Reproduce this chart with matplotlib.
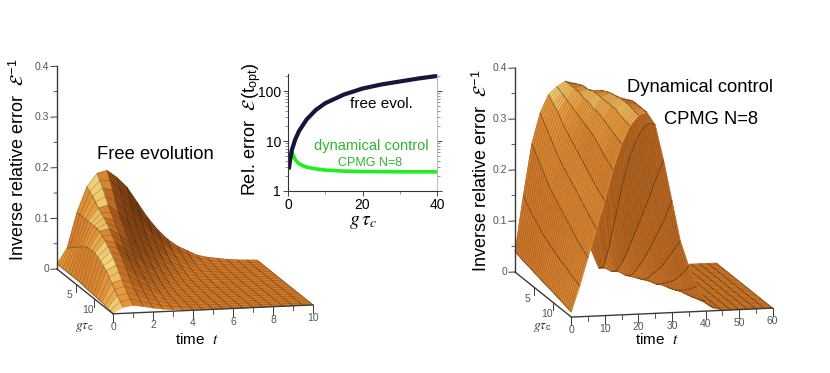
import numpy as np
import matplotlib
matplotlib.use('Agg')
import matplotlib.pyplot as plt
from matplotlib.colors import LinearSegmentedColormap
from mpl_toolkits.mplot3d import proj3d
from mpl_toolkits.mplot3d.art3d import Poly3DCollection

plt.rcParams['font.family'] = 'Liberation Sans'
plt.rcParams['mathtext.fontset'] = 'stix'

# ---- Free evolution surface: one list per g row, one value per t column
free_t = [0, .5, 1, 1.5, 2, 2.5, 3, 3.5, 4, 4.5, 5, 5.5, 6, 6.5, 7, 7.5, 8, 8.5, 9, 9.5, 10]
free_g = [0, 1.5, 3, 4.5, 6, 7.5, 9, 10.5, 12, 13.5, 15]
free_z = [
    [.010, .040, .110, .160, .185, .190, .175, .155, .125, .095, .070, .050, .035, .025, .015, .010, .007, .004, .002, .001, 0],
    [.010, .050, .110, .150, .165, .160, .140, .115, .090, .070, .050, .035, .025, .015, .010, .006, .004, .002, .001, 0, 0],
    [.010, .060, .110, .135, .140, .125, .105, .085, .065, .048, .033, .023, .015, .009, .006, .003, .002, .001, 0, 0, 0],
    [.010, .070, .110, .125, .120, .105, .085, .065, .048, .033, .022, .014, .009, .005, .003, .002, .001, 0, 0, 0, 0],
    [.010, .075, .108, .112, .100, .085, .065, .048, .033, .022, .014, .008, .005, .003, .002, .001, 0, 0, 0, 0, 0],
    [.008, .075, .098, .095, .080, .063, .047, .033, .022, .014, .008, .005, .003, .001, .001, 0, 0, 0, 0, 0, 0],
    [.007, .068, .085, .078, .062, .046, .033, .022, .014, .008, .005, .003, .001, .001, 0, 0, 0, 0, 0, 0, 0],
    [.006, .058, .068, .060, .046, .033, .022, .014, .008, .005, .003, .001, .001, 0, 0, 0, 0, 0, 0, 0, 0],
    [.005, .042, .048, .040, .030, .021, .014, .008, .005, .003, .001, .001, 0, 0, 0, 0, 0, 0, 0, 0, 0],
    [.003, .026, .030, .025, .018, .012, .008, .005, .003, .001, .001, 0, 0, 0, 0, 0, 0, 0, 0, 0, 0],
    [.001, .012, .015, .012, .008, .005, .003, .002, .001, 0, 0, 0, 0, 0, 0, 0, 0, 0, 0, 0, 0],
]

# ---- Dynamical control surface: one list per t column, one value per g row
dyn_g = [0, 1.25, 2.5, 3.75, 5, 6.25, 7.5, 8.75, 10, 11.25, 12.5, 13.75, 15]
dyn_t = [0, 2.5, 5, 7.5, 10, 12.5, 15, 17.5, 20, 22.5, 25, 27.5, 30, 32.5, 35, 37.5, 40, 42.5,
         45, 47.5, 50, 52.5, 55, 57.5, 60]
dyn_z_by_t = [
    [.040, .037, .034, .032, .029, .027, .024, .022, .020, .017, .015, .012, .010],
    [.150, .135, .125, .115, .105, .098, .092, .085, .080, .075, .070, .065, .060],
    [.250, .235, .220, .205, .190, .180, .170, .160, .150, .140, .130, .122, .115],
    [.310, .295, .280, .265, .250, .240, .230, .220, .210, .200, .190, .180, .170],
    [.345, .335, .325, .310, .300, .290, .280, .270, .260, .250, .240, .232, .225],
    [.360, .355, .350, .345, .340, .335, .330, .325, .320, .310, .300, .292, .285],
    [.370, .370, .370, .370, .365, .365, .360, .360, .355, .350, .345, .340, .335],
    [.365, .370, .375, .375, .380, .380, .380, .380, .380, .380, .375, .372, .370],
    [.260, .320, .350, .370, .380, .385, .390, .392, .395, .395, .395, .392, .390],
    [.040, .120, .200, .260, .310, .345, .365, .380, .390, .395, .395, .395, .395],
    [0, .010, .050, .100, .150, .200, .245, .280, .310, .335, .355, .365, .370],
    [0, 0, .010, .030, .055, .085, .115, .145, .175, .205, .240, .270, .300],
    [0, 0, 0, .005, .020, .040, .060, .085, .110, .135, .160, .190, .220],
    [0, 0, 0, 0, .005, .015, .030, .045, .060, .080, .100, .120, .140],
    [0, 0, 0, 0, 0, .003, .010, .020, .030, .040, .055, .070, .090],
    [0, 0, 0, 0, 0, 0, .002, .006, .012, .020, .028, .038, .050],
    [0, 0, 0, 0, 0, 0, 0, .001, .003, .006, .010, .015, .020],
    [0, 0, 0, 0, 0, 0, 0, 0, 0, .001, .002, .003, .005],
    [0] * 13, [0] * 13, [0] * 13, [0] * 13, [0] * 13, [0] * 13, [0] * 13,
]

# ---- Inset curves
free_evol_g = [.2, .5, 1, 2, 3, 5, 7.5, 10, 15, 20, 25, 30, 35, 40]
free_evol_err = [2.7, 3.8, 6.5, 11, 16, 27, 42, 57, 85, 112, 135, 155, 178, 200]
dyn_ctrl_g = [.9, 1.2, 1.6, 2, 2.5, 3, 4, 5, 7, 10, 15, 20, 30, 40]
dyn_ctrl_err = [6.6, 5.6, 4.8, 4.2, 3.8, 3.5, 3.2, 3.0, 2.8, 2.62, 2.5, 2.45, 2.42, 2.42]

z_major = [0, .1, .2, .3, .4]
z_minor = [.05, .15, .25, .35]
free_t_major = [0, 2, 4, 6, 8, 10]
free_t_minor = [1, 3, 5, 7, 9]
dyn_t_major = [0, 10, 20, 30, 40, 50, 60]
dyn_t_minor = [5, 15, 25, 35, 45, 55]
g_major = [5, 10]
G_MAX = 15
Z_MAX = .4

W, H = 830, 373
BOX = (205, 243, 206)
ELEV, AZIM = 10.9, -103.3
fig = plt.figure(figsize=(W / 100, H / 100), dpi=100)

surf_cmap = LinearSegmentedColormap.from_list('surf', [
    (0, '#4a260c'), (.45, '#6a3610'), (.62, '#9a5218'), (.8, '#cb7528'), (.875, '#d07a2a'),
    (.96, '#e79c3e'), (1, '#f2d47c')])


def px_xy(x, y):
    return x / W, 1 - y / H


def project(ax, x, y, z):
    ax.apply_aspect()
    X, Y, _ = proj3d.proj_transform(x, y, z, ax.get_proj())
    p = ax.transData.transform((X, Y))
    return np.array([p[0], H - p[1]])


def surface(ax, t, g, Z, light, t_every, stripe, coarse, lift, sub):
    t, g, Z = np.asarray(t, float), np.asarray(g, float), np.asarray(Z, float)
    T, G = np.meshgrid(t, g)
    P = np.dstack([T, G, Z])
    k = np.array([BOX[0] / t[-1], BOX[1] / G_MAX, BOX[2] / Z_MAX])
    cam = np.array([-.225, .955, .19])
    light = np.array(light) / np.linalg.norm(light)
    verts, fc, ec = [], [], []
    for i in range(len(g) - 1):
        for j in range(len(t) - 1):
            q = [P[i, j], P[i, j + 1], P[i + 1, j + 1], P[i + 1, j]]
            a = (q[2] - q[0]) * k
            b = (q[3] - q[1]) * k
            n = np.cross(a, b)
            n = n / (np.linalg.norm(n) + 1e-12)
            if n[2] < 0:
                n = -n
            s = float(n @ light)
            val = .5 + .5 * s
            if s < .3:
                val -= .55 * np.mean([p[2] for p in q])
            if n @ cam < 0:
                val = .68 + .2 * float(n[2])
            c = surf_cmap(np.clip(val, 0, 1))
            verts.append(q)
            fc.append(c)
            ec.append(c)
    shift = lift * cam / k
    # constant-g stripes, with extra mesh lines drawn across each cell
    for i in range(len(g) - 1):
        for f in (np.arange(sub) / sub):
            L = P[i] * (1 - f) + P[i + 1] * f
            for j in range(len(t) - 1):
                verts.append([L[j] + shift, L[j + 1] + shift, L[j + 1] + shift, L[j] + shift])
                fc.append((0, 0, 0, 0))
                ec.append((.18, .08, .02, stripe))
    # constant-t mesh lines
    for j in range(0, len(t), t_every):
        for i in range(len(g) - 1):
            verts.append([P[i, j] + shift, P[i + 1, j] + shift, P[i + 1, j] + shift, P[i, j] + shift])
            fc.append((0, 0, 0, 0))
            ec.append((.15, .07, .02, coarse))
    ax.add_collection3d(Poly3DCollection(verts, facecolors=fc, edgecolors=ec, linewidths=.5), autolim=False)


def frame(ax, tmax, t_major, t_minor):
    col = '#3a3a3a'
    dt = tmax / 10
    ax.plot([0, 0], [0, 0], [0, Z_MAX], color=col, lw=1)
    ax.plot([0, 0], [0, G_MAX], [0, 0], color=col, lw=1)
    ax.plot([0, tmax], [G_MAX, G_MAX], [0, 0], color=col, lw=1)
    for z in z_major:
        ax.plot([-.3 * dt, 0], [0, 0], [z, z], color=col, lw=.7)
    for z in z_minor:
        ax.plot([-.15 * dt, 0], [0, 0], [z, z], color=col, lw=.6)
    for v in t_major:
        ax.plot([v, v], [G_MAX, G_MAX], [0, -.016], color=col, lw=.7)
    for v in t_minor:
        ax.plot([v, v], [G_MAX, G_MAX], [0, -.009], color=col, lw=.6)
    for v in g_major:
        ax.plot([0, 0], [v, v], [0, -.016], color=col, lw=.7)


def tick_labels(ax, tmax, t_major):
    tickc = '#555555'
    dt = tmax / 10
    for z in z_major:
        p = project(ax, -.4 * dt, 0, z)
        fig.text(*px_xy(*p), f'{z:g}', ha='right', va='center', fontsize=7.5, color=tickc)
    for v in t_major:
        p = project(ax, v, G_MAX, -.026)
        fig.text(*px_xy(*p), f'{v:g}', ha='center', va='center', fontsize=7.5, color=tickc)
    for v in g_major:
        p = project(ax, -.3 * dt, v, -.022)
        fig.text(*px_xy(*p), f'{v:g}', ha='center', va='center', fontsize=7.5, color=tickc)


def panel(t, g, Z, tmax, t_major, t_minor, light, t_every, stripe, coarse, lift, sub, p_back, p_right):
    ax = fig.add_axes([.1, .05, 400 / W, 400 / H], projection='3d', proj_type='ortho',
                      computed_zorder=False)
    ax.set_axis_off()
    ax.patch.set_alpha(0)
    surface(ax, t, g, Z, light, t_every, stripe, coarse, lift, sub)
    frame(ax, tmax, t_major, t_minor)
    ax.view_init(elev=ELEV, azim=AZIM)
    ax.set_box_aspect(BOX)
    ax.set_xlim(0, tmax)
    ax.set_ylim(G_MAX, 0)
    ax.set_zlim(0, Z_MAX)
    for _ in range(3):
        a = project(ax, 0, 0, 0)
        b = project(ax, tmax, G_MAX, 0)
        s = np.linalg.norm(np.array(p_right) - np.array(p_back)) / np.linalg.norm(b - a)
        pos = ax.get_position()
        ax.set_position([pos.x0, pos.y0, pos.width * s, pos.height * s])
        a = project(ax, 0, 0, 0)
        pos = ax.get_position()
        ax.set_position([pos.x0 + (p_back[0] - a[0]) / W, pos.y0 - (p_back[1] - a[1]) / H, pos.width, pos.height])
    tick_labels(ax, tmax, t_major)
    return ax


panel(free_t, free_g, free_z, 10, free_t_major, free_t_minor, (-.6, .3, .75), 1, .28, .5, 14, 2,
      (57, 269), (313, 305))
panel(dyn_t, dyn_g, np.array(dyn_z_by_t).T, 60, dyn_t_major, dyn_t_minor, (-.6, .3, .75), 1, .22, .6, 12, 3,
      (515, 272), (773, 305))

# Panel texts
ylab = r'Inverse relative error  $\mathcal{E}^{\,\mathregular{-1}}$'
fig.text(*px_xy(18, 160), ylab, rotation=90, ha='center', va='center', fontsize=13)
fig.text(*px_xy(481, 171), ylab, rotation=90, ha='center', va='center', fontsize=13)
fig.text(*px_xy(155, 154), 'Free evolution', ha='center', va='center', fontsize=13.2)
fig.text(*px_xy(700, 88), 'Dynamical control', ha='center', va='center', fontsize=13.2)
fig.text(*px_xy(711, 119), 'CPMG N=8', ha='center', va='center', fontsize=13.2)
for x in (197, 657):
    fig.text(*px_xy(x, 339), r'time  $\mathit{t}$', ha='center', va='center', fontsize=11)
for x in (84, 542):
    fig.text(*px_xy(x, 327), r'$g\tau_{\mathregular{c}}$', ha='center', va='center', fontsize=9.5, color='#333333')

# Inset
ax2 = fig.add_axes([288 / W, 1 - 191 / H, 149 / W, 117 / H])
ax2.set_yscale('log')
ax2.plot(dyn_ctrl_g, dyn_ctrl_err, color='#1fee1f', lw=2.6, solid_capstyle='butt')
ax2.plot(free_evol_g, free_evol_err, color='#15153d', lw=3, solid_capstyle='butt')
ax2.set_xlim(0, 40)
ax2.set_ylim(1, 219)
ax2.set_xticks([0, 20, 40])
ax2.set_yticks([1, 10, 100])
ax2.set_yticklabels(['1', '10', '100'])
ax2.tick_params(axis='both', which='major', labelsize=10, length=3.5, width=.7, pad=1.5, color='#444444')
ax2.tick_params(axis='y', which='minor', length=2, width=.5, color='#666666')
ax2.tick_params(axis='y', which='both', right=True)
ax2.set_xticks([10, 30], minor=True)
ax2.tick_params(axis='x', which='minor', length=2, width=.5, color='#666666')
ax2.patch.set_alpha(0)
ax2.spines['top'].set_visible(False)
ax2.spines['right'].set_color('#bbbbbb')
for s in ('left', 'bottom'):
    ax2.spines[s].set_color('#333333')
    ax2.spines[s].set_linewidth(.8)
fig.text(*px_xy(252, 129), r'Rel. error  $\mathcal{E}\,$(t$_{\mathregular{opt}}$)', rotation=90, ha='center', va='center', fontsize=13)
fig.text(*px_xy(363, 223), r'$g\,\tau_c$', ha='center', va='center', fontsize=14)
fig.text(*px_xy(381, 104), 'free evol.', ha='center', va='center', fontsize=11)
fig.text(*px_xy(371, 146), 'dynamical control', ha='center', va='center', fontsize=10.5, color='#2db52d')
fig.text(*px_xy(370, 163), 'CPMG N=8', ha='center', va='center', fontsize=9, color='#2db52d')

fig.savefig('out.png', dpi=100)
